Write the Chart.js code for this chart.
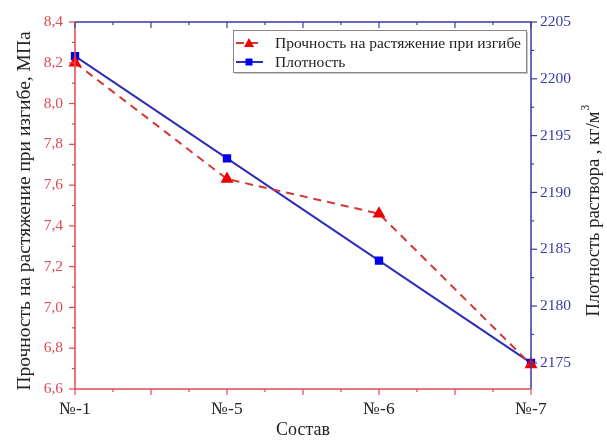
<!DOCTYPE html>
<html><head><meta charset="utf-8">
<script src="https://cdn.jsdelivr.net/npm/chart.js@4/dist/chart.umd.min.js"></script>
<style>html,body{margin:0;padding:0;background:#fff;}#wrap{width:607px;height:440px;}</style>
</head><body><div id="wrap"><canvas id="c" width="607" height="440"></canvas></div>
<script>
const categories = ['№-1', '№-5', '№-6', '№-7'];
const strength = [8.20, 7.63, 7.46, 6.72];
const density = [2202, 2193, 2184, 2175];
const leftTicks = [6.6, 6.8, 7.0, 7.2, 7.4, 7.6, 7.8, 8.0, 8.2, 8.4];
const rightTicks = [2175, 2180, 2185, 2190, 2195, 2200, 2205];
const strengthLabel = 'Прочность на растяжение при изгибе';
const densityLabel = 'Плотность';
const xTitle = 'Состав';
const leftTitle = 'Прочность на растяжение при изгибе, МПа';
const rightTitle = 'Плотность раствора , кг/м';

const RED = '#dc4a52', RED_LINE = '#d43535', RED_MK = '#f00000';
const BLUE = '#3a3aa6', BLUE_LINE = '#2f2fb5', BLUE_MK = '#0000ee';
const SERIF = '"Liberation Serif", "DejaVu Serif", serif';

const framePlugin = {
  id: 'frame',
  afterDraw(chart) {
    const ctx = chart.ctx, a = chart.chartArea;
    const x = chart.scales.x, yl = chart.scales.y, yr = chart.scales.y2;
    ctx.save();
    ctx.lineWidth = 1.5;
    ctx.strokeStyle = BLUE;
    ctx.beginPath(); ctx.moveTo(a.left, a.top); ctx.lineTo(a.right, a.top); ctx.lineTo(a.right, a.bottom); ctx.stroke();
    ctx.strokeStyle = RED;
    ctx.beginPath(); ctx.moveTo(a.left, a.top); ctx.lineTo(a.left, a.bottom); ctx.lineTo(a.right, a.bottom); ctx.stroke();
    ctx.lineWidth = 1.2;
    const n = categories.length - 1;
    for (let k = 0; k <= n * 4; k++) {
      const px = x.getPixelForDecimal(k / (n * 4));
      const len = k % 2 === 0 ? 6 : 3;
      ctx.strokeStyle = RED;
      ctx.beginPath(); ctx.moveTo(px, a.bottom); ctx.lineTo(px, a.bottom + len); ctx.stroke();
      ctx.strokeStyle = BLUE;
      ctx.beginPath(); ctx.moveTo(px, a.top); ctx.lineTo(px, a.top + len); ctx.stroke();
    }
    ctx.strokeStyle = RED;
    for (let i = 0; i <= 18; i++) {
      const py = yl.getPixelForValue(6.6 + i * 0.1);
      ctx.beginPath(); ctx.moveTo(a.left, py); ctx.lineTo(a.left - (i % 2 === 0 ? 6 : 3), py); ctx.stroke();
    }
    ctx.strokeStyle = BLUE;
    for (let v = 2175; v <= 2205; v += 2.5) {
      const py = yr.getPixelForValue(v);
      ctx.beginPath(); ctx.moveTo(a.right, py); ctx.lineTo(a.right + (v % 5 === 0 ? 6 : 3), py); ctx.stroke();
    }
    // axis titles
    ctx.fillStyle = '#222';
    ctx.textAlign = 'center'; ctx.textBaseline = 'middle';
    ctx.font = '18px ' + SERIF;
    ctx.fillText(xTitle, (a.left + a.right) / 2, 430);
    ctx.save();
    ctx.translate(25, 211); ctx.rotate(-Math.PI / 2);
    ctx.font = '19.5px ' + SERIF;
    ctx.fillText(leftTitle, 0, 0);
    ctx.restore();
    ctx.save();
    ctx.translate(594, 211); ctx.rotate(-Math.PI / 2);
    ctx.font = '18.5px ' + SERIF;
    const w = ctx.measureText(rightTitle).width;
    ctx.textAlign = 'left';
    ctx.fillText(rightTitle, -w / 2 - 3, 0);
    ctx.font = '11.5px ' + SERIF;
    ctx.fillText('3', w / 2 - 2, -8);
    ctx.restore();
    // legend
    const lx = 233, ly = 30, lw = 293, lh = 42;
    ctx.fillStyle = 'rgba(0,0,0,0.22)';
    ctx.fillRect(lx + 2, ly + 2, lw, lh);
    ctx.fillStyle = '#fff';
    ctx.fillRect(lx, ly, lw, lh);
    ctx.strokeStyle = '#888'; ctx.lineWidth = 1;
    ctx.strokeRect(lx + 0.5, ly + 0.5, lw, lh);
    const items = [
      {ds: chart.data.datasets[0], y: ly + 13},
      {ds: chart.data.datasets[1], y: ly + 32}
    ];
    ctx.font = '15.5px ' + SERIF;
    ctx.textAlign = 'left'; ctx.textBaseline = 'middle';
    items.forEach(it => {
      ctx.strokeStyle = it.ds.borderColor; ctx.lineWidth = 2;
      ctx.setLineDash(it.ds.borderDash || []);
      ctx.beginPath(); ctx.moveTo(lx + 3, it.y); ctx.lineTo(lx + 30, it.y); ctx.stroke();
      ctx.setLineDash([]);
      ctx.fillStyle = it.ds.pointBackgroundColor;
      if (it.ds.pointStyle === 'triangle') {
        ctx.beginPath(); ctx.moveTo(lx + 16, it.y - 5); ctx.lineTo(lx + 21, it.y + 4); ctx.lineTo(lx + 11, it.y + 4); ctx.closePath(); ctx.fill();
      } else {
        ctx.fillRect(lx + 12.5, it.y - 3.5, 7, 7);
      }
      ctx.fillStyle = '#222';
      ctx.fillText(it.ds.label, lx + 42, it.y + 1);
    });
    ctx.restore();
  }
};

new Chart(document.getElementById('c'), {
  type: 'line',
  data: {
    labels: categories,
    datasets: [
      { label: strengthLabel, data: strength, yAxisID: 'y', borderColor: RED_LINE, borderWidth: 2, borderDash: [8, 6],
        pointStyle: 'triangle', pointRadius: 5.5, pointBackgroundColor: RED_MK, pointBorderColor: RED_MK, tension: 0, fill: false },
      { label: densityLabel, data: density, yAxisID: 'y2', borderColor: BLUE_LINE, borderWidth: 2,
        pointStyle: 'rect', pointRadius: 4.5, pointBackgroundColor: BLUE_MK, pointBorderColor: BLUE_MK, tension: 0, fill: false }
    ]
  },
  options: {
    responsive: false, animation: false,
    layout: { padding: { top: 22 } },
    plugins: { legend: { display: false }, tooltip: { enabled: false } },
    scales: {
      x: {
        type: 'category', offset: false,
        grid: { display: false }, border: { display: false },
        ticks: { color: '#222', font: { family: SERIF, size: 17.5 }, padding: 2, maxRotation: 0 },
        afterFit(s) { s.height = 51; }
      },
      y: {
        position: 'left', min: 6.6, max: 8.4,
        afterBuildTicks(s) { s.ticks = leftTicks.map(v => ({ value: v })); },
        grid: { display: false }, border: { display: false },
        ticks: { color: RED, font: { family: SERIF, size: 15.5 }, padding: 4,
          callback: v => v.toFixed(1).replace('.', ',') },
        afterFit(s) { s.width = 75; }
      },
      y2: {
        position: 'right', min: 2172.7, max: 2205,
        afterBuildTicks(s) { s.ticks = rightTicks.map(v => ({ value: v })); },
        grid: { display: false }, border: { display: false },
        ticks: { color: BLUE, font: { family: SERIF, size: 15.5 }, padding: 1, callback: v => String(v) },
        afterFit(s) { s.width = 76; }
      }
    }
  },
  plugins: [framePlugin]
});
</script></body></html>
